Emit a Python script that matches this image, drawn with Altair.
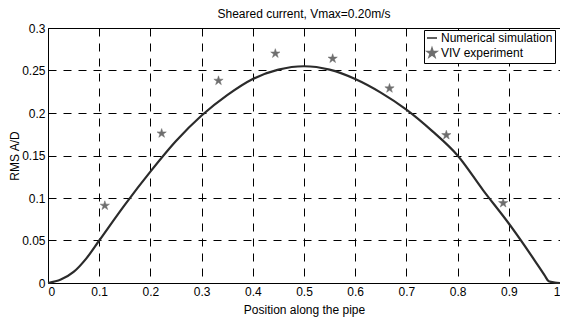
import altair as alt
import pandas as pd

# Numerical simulation curve
sim_x = [0.0, 0.025, 0.05, 0.075, 0.1, 0.15, 0.2, 0.25, 0.3, 0.35, 0.4, 0.45, 0.5,
         0.55, 0.6, 0.65, 0.7, 0.75, 0.8, 0.85, 0.9, 0.95, 0.97, 0.978, 0.99, 1.0]
sim_y = [0.0, 0.004, 0.013, 0.029, 0.050, 0.092, 0.131, 0.167, 0.197, 0.221, 0.240, 0.251, 0.255,
         0.251, 0.240, 0.224, 0.204, 0.179, 0.150, 0.109, 0.070, 0.027, 0.009, 0.002, 0.0005, 0.0]

# VIV experiment points
exp_x = [0.111, 0.222, 0.333, 0.444, 0.556, 0.667, 0.778, 0.889]
exp_y = [0.091, 0.176, 0.238, 0.270, 0.264, 0.229, 0.174, 0.094]

series_names = ["Numerical simulation", "VIV experiment"]
x_ticks = [0, 0.1, 0.2, 0.3, 0.4, 0.5, 0.6, 0.7, 0.8, 0.9, 1.0]
y_ticks = [0, 0.05, 0.1, 0.15, 0.2, 0.25, 0.3]

FONT = "Liberation Sans"
STAR = "M0,-1L0.2245,-0.309L0.951,-0.309L0.363,0.118L0.588,0.809L0,0.382L-0.588,0.809L-0.363,0.118L-0.951,-0.309L-0.2245,-0.309Z"

sim_df = pd.DataFrame({"x": sim_x, "y": sim_y, "series": series_names[0]})
exp_df = pd.DataFrame({"x": exp_x, "y": exp_y, "series": series_names[1]})

x_scale = alt.Scale(domain=[0, 1], nice=False, zero=False)
y_scale = alt.Scale(domain=[0, 0.3], nice=False)

x_enc = alt.X("x:Q", scale=x_scale,
              axis=alt.Axis(values=x_ticks, format="~g", title="Position along the pipe",
                            titleY=30, titleBaseline="alphabetic"))
y_enc = alt.Y("y:Q", scale=y_scale,
              axis=alt.Axis(values=y_ticks, format="~g", title="RMS A/D",
                            titleX=-34, titleY=127.5, titleAngle=270, titleBaseline="middle"))

line = alt.Chart(sim_df).mark_line(color="#2b2b2b", strokeWidth=2.2, interpolate="monotone").encode(
    x=x_enc, y=y_enc
)

legend = alt.Legend(
    title=None, orient="none", legendX=376, legendY=2,
    strokeColor="black", fillColor="white", padding=2, rowPadding=1,
    labelFont=FONT, labelFontSize=12, labelColor="black", labelOffset=3,
    symbolSize=100, symbolStrokeWidth=1.5, cornerRadius=0,
)

pts = alt.Chart(exp_df).mark_point(filled=True, size=95, opacity=1, strokeWidth=0.5).encode(
    x=alt.X("x:Q", scale=x_scale), y=alt.Y("y:Q", scale=y_scale),
    fill=alt.Fill("series:N", scale=alt.Scale(domain=series_names, range=["#2b2b2b", "#6e6e6e"]), legend=legend),
    stroke=alt.Stroke("series:N", scale=alt.Scale(domain=series_names, range=["#2b2b2b", "#6e6e6e"]), legend=legend),
    shape=alt.Shape("series:N", scale=alt.Scale(domain=series_names, range=["stroke", STAR]), legend=legend),
)

chart = alt.layer(line, pts).properties(
    width=512, height=255,
    background="white",
    autosize=alt.AutoSizeParams(type="none"),
    padding={"left": 40, "top": 20, "right": 0, "bottom": 37},
    title=alt.TitleParams("Sheared current, Vmax=0.20m/s", font=FONT, fontSize=12,
                          fontWeight="normal", color="black", anchor="middle", frame="group",
                          offset=5, dy=4),
).configure_view(
    stroke="black", strokeWidth=1
).configure_axis(
    labelFont=FONT, labelFontSize=12, labelColor="black",
    titleFont=FONT, titleFontSize=12, titleColor="black", titleFontWeight="normal",
    domainColor="black", domainWidth=1, ticks=False, labelPadding=3,
    grid=True, gridColor="black", gridDash=[8, 7], gridWidth=1, gridOpacity=1,
)

chart.save("out.html", embed_options={"renderer": "svg", "actions": False})
